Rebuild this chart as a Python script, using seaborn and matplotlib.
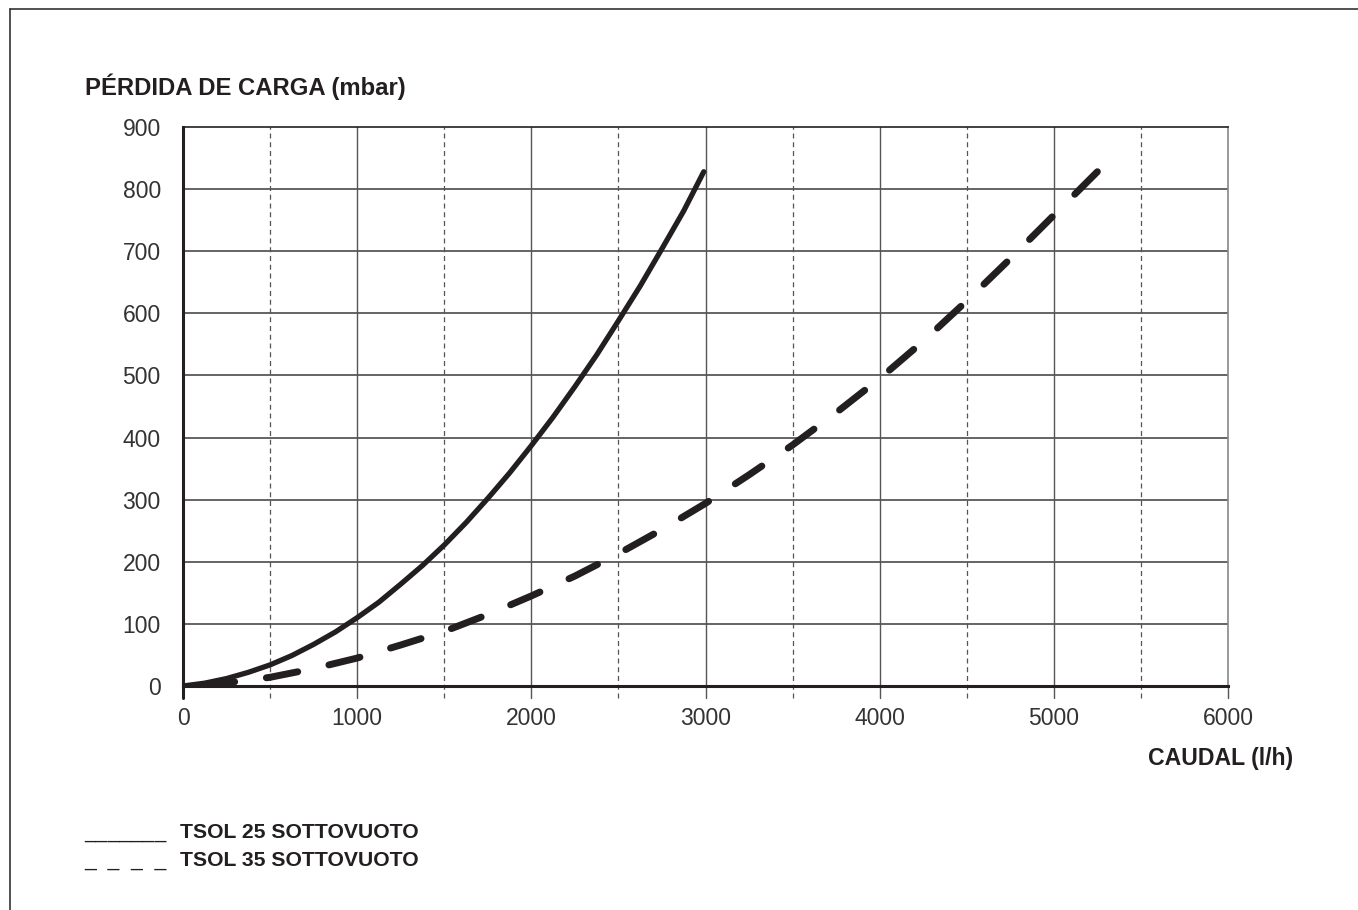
import seaborn as sns
import matplotlib.pyplot as plt
import pandas as pd
import numpy as np
from matplotlib.lines import Line2D

# caudal (l/h) vs pérdida de carga (mbar)
caudal_25 = [0, 125, 250, 375, 500, 625, 750, 875, 1000, 1125, 1250, 1375, 1500, 1625,
             1750, 1875, 2000, 2125, 2250, 2375, 2500, 2625, 2750, 2875, 2990]
perdida_25 = [0, 4.6, 12, 22, 34, 49, 67, 87, 110, 135, 164, 194, 227, 263,
              302, 343, 387, 433, 482, 533, 588, 644, 704, 765, 828]

caudal_35 = [0, 250, 500, 750, 1000, 1250, 1500, 1750, 2000, 2250, 2500, 2750, 3000,
             3250, 3500, 3750, 4000, 4250, 4500, 4750, 5000, 5250]
perdida_35 = [0, 5, 14, 28, 45, 66, 88, 115, 145, 177, 213, 252, 294,
              340, 388, 440, 495, 555, 620, 688, 758, 828]

ticks_x = [0, 1000, 2000, 3000, 4000, 5000, 6000]
ticks_x_medios = [500, 1500, 2500, 3500, 4500, 5500]
ticks_y = [0, 100, 200, 300, 400, 500, 600, 700, 800, 900]

series = ["TSOL 25 SOTTOVUOTO", "TSOL 35 SOTTOVUOTO"]

sns.set_style("white")
plt.rcParams['font.family'] = ['Liberation Sans', 'DejaVu Sans']

W, H = 1358, 910
fig = plt.figure(figsize=(W / 100, H / 100), dpi=100)
ax = fig.add_axes([183 / W, 1 - 686 / H, (1228 - 183) / W, (686 - 127) / H])

ink = '#231f20'
gris = '#3a3a3a'

# rejilla
for v in ticks_y[1:-1]:
    ax.axhline(v, color=gris, lw=1.1, zorder=1)
for v in ticks_x[1:-1]:
    ax.axvline(v, ymin=-12 / 559, ymax=1, color='#555555', lw=1.0, clip_on=False, zorder=1)
for v in ticks_x_medios:
    ax.axvline(v, ymin=-12 / 559, ymax=1, color='#555555', lw=0.9, ls=(0, (4, 3)),
               clip_on=False, zorder=1)
ax.axvline(6000, ymin=-12 / 559, ymax=0, color='#555555', lw=1.0, clip_on=False)
ax.axvline(0, ymin=-12 / 559, ymax=0, color=ink, lw=2.2, clip_on=False)

df25 = pd.DataFrame({'caudal': caudal_25, 'perdida': perdida_25})
df35 = pd.DataFrame({'caudal': caudal_35, 'perdida': perdida_35})

sns.lineplot(data=df25, x='caudal', y='perdida', ax=ax, color=ink, linewidth=3.8,
             solid_capstyle='round', solid_joinstyle='round', zorder=3)
sns.lineplot(data=df35, x='caudal', y='perdida', ax=ax, color=ink, linewidth=5,
             dash_capstyle='round', dash_joinstyle='round', zorder=3)

ax.set_xlim(0, 6000)
ax.set_ylim(0, 900)

# que la línea discontinua termine con un trazo
lw35 = 5
dash = 4.6
pts = ax.transData.transform(np.column_stack([caudal_35, perdida_35]))
largo = np.sum(np.hypot(*np.diff(pts, axis=0).T)) * 72 / fig.dpi
periodo = 2 * dash * lw35
offset = ((dash * lw35 - largo) % periodo) / lw35
ax.lines[-1].set_linestyle((offset, (dash, dash)))

ax.set_xticks(ticks_x)
ax.set_yticks(ticks_y)
ax.set_xlabel('')
ax.set_ylabel('')
ax.tick_params(axis='x', length=0, pad=15, labelsize=16.5, labelcolor='#333333')
ax.tick_params(axis='y', length=6, width=1.1, color=ink, pad=10, labelsize=16.5,
               labelcolor='#333333')

ax.spines['left'].set_linewidth(2.2)
ax.spines['left'].set_color(ink)
ax.spines['bottom'].set_linewidth(2.2)
ax.spines['bottom'].set_color(ink)
ax.spines['top'].set_linewidth(1.2)
ax.spines['top'].set_color(ink)
ax.spines['right'].set_linewidth(1.2)
ax.spines['right'].set_color('#888888')

fig.text(85 / W, 1 - 87 / H, 'PÉRDIDA DE CARGA (mbar)', fontsize=17.2, fontweight='bold',
         color=ink, ha='left', va='center')
fig.text(1293 / W, 1 - 758 / H, 'CAUDAL (l/h)', fontsize=16.6, fontweight='bold',
         color=ink, ha='right', va='center')

# leyenda
fig.text(84 / W, 1 - 832 / H, '_______', fontsize=15.2, color=ink, ha='left', va='center')
fig.text(84 / W, 1 - 860 / H, '_  _  _  _', fontsize=15.2, color=ink, ha='left', va='center')
fig.text(180 / W, 1 - 832 / H, series[0], fontsize=15.2, fontweight='bold', color=ink,
         ha='left', va='center')
fig.text(180 / W, 1 - 860 / H, series[1], fontsize=15.2, fontweight='bold', color=ink,
         ha='left', va='center')

# marco
fig.add_artist(Line2D([10 / W, 10 / W], [0, 1 - 9 / H], transform=fig.transFigure,
                      color='#333333', lw=1.2))
fig.add_artist(Line2D([10 / W, 1], [1 - 9 / H, 1 - 9 / H], transform=fig.transFigure,
                      color='#333333', lw=1.2))

fig.savefig('out.png', dpi=100)
